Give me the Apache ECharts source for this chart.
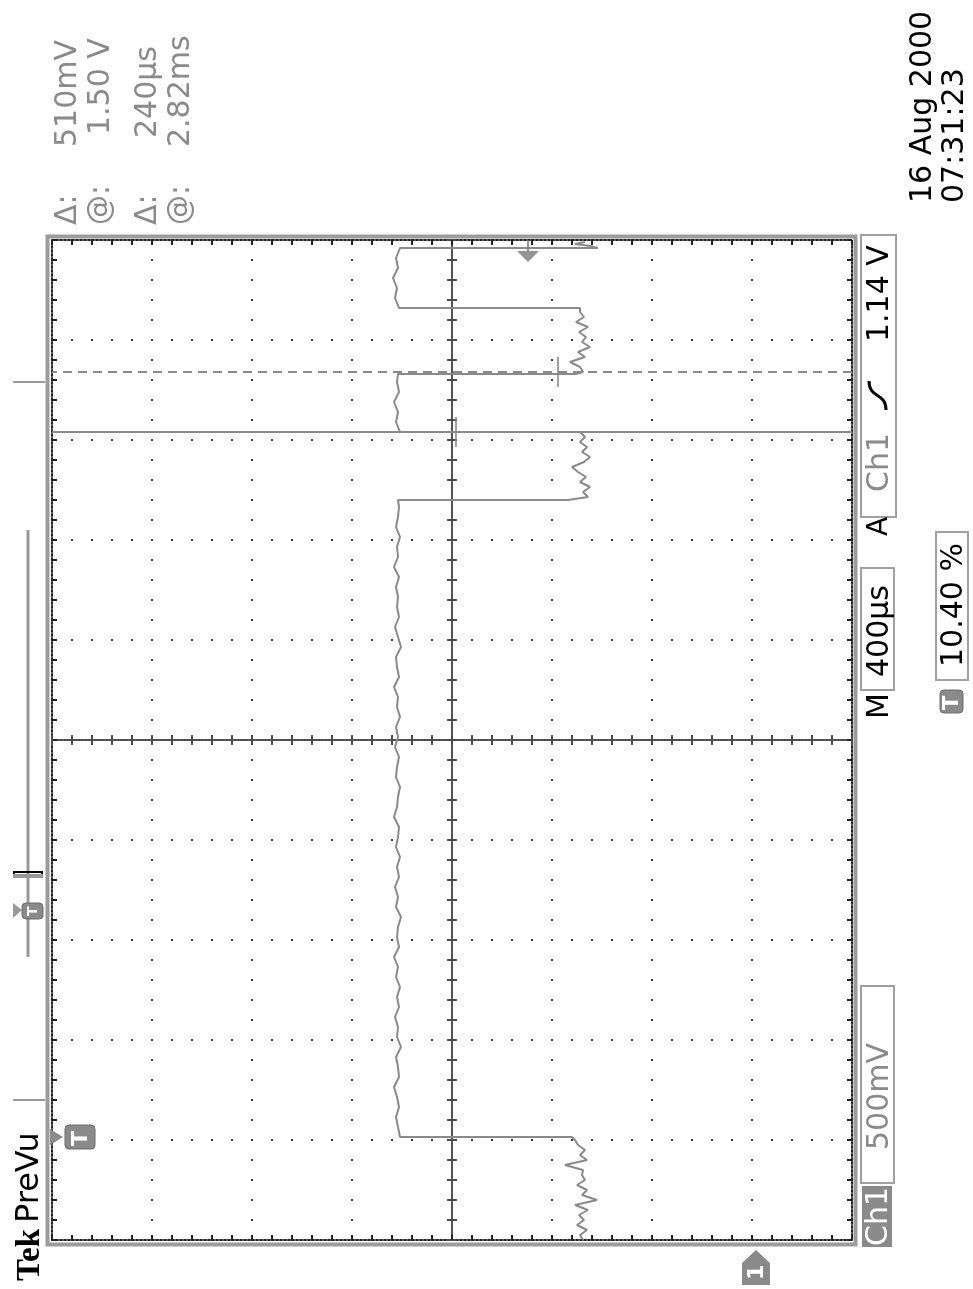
<!DOCTYPE html>
<html><head><meta charset="utf-8">
<script src="https://cdn.jsdelivr.net/npm/echarts@6/dist/echarts.min.js"></script>
<style>html,body{margin:0;padding:0;background:#fff}#c{width:973px;height:1289px}</style>
</head><body><div id="c"></div><script>
// ---- data (time in µs relative to trigger, voltage in V) ----
const traceTime = [
  -412,-392,-372,-352,-332,-312,-292,-272,-252,-232,-212,-192,-172,-152,-132,-112,-92,-72,-52,-32,-12,0,
  0,40,80,120,160,200,240,280,320,360,400,440,480,520,560,600,640,680,720,760,800,840,880,920,960,1000,
  1040,1080,1120,1160,1200,1240,1280,1320,1360,1400,1440,1480,1520,1560,1600,1640,1680,1720,1760,1800,
  1840,1880,1920,1960,2000,2040,2080,2120,2160,2200,2240,2280,2320,2360,2400,2440,2480,2520,2548,
  2548,2560,2580,2600,2620,2640,2660,2680,2700,2720,2740,2760,2780,2800,2820,
  2820,2860,2900,2940,2980,3020,3052,
  3052,3060,3080,3100,3120,3140,3160,3180,3200,3220,3240,3260,3280,3300,3316,
  3316,3356,3396,3436,3476,3516,3556,
  3556,3564,3572,3580
];
const traceVolt = [
  0.865,0.88,0.845,0.895,0.86,0.885,0.84,0.905,0.795,0.87,0.845,0.895,0.855,0.87,0.865,0.955,0.845,0.88,0.855,0.89,0.905,0.92,
  1.78,1.79,1.80,1.785,1.795,1.81,1.785,1.79,1.80,1.775,1.795,1.79,1.805,1.785,1.795,1.78,1.80,1.79,1.81,1.785,1.795,
  1.79,1.775,1.80,1.79,1.805,1.785,1.795,1.78,1.80,1.79,1.785,1.81,1.795,1.79,1.78,1.80,1.795,1.785,1.805,1.79,
  1.80,1.78,1.795,1.79,1.81,1.785,1.795,1.80,1.775,1.79,1.805,1.785,1.795,1.79,1.80,1.785,1.81,1.79,1.795,1.78,
  1.80,1.79,1.785,1.79,
  0.94,0.84,0.865,0.83,0.88,0.85,0.89,0.92,0.86,0.83,0.87,0.845,0.88,0.855,0.88,
  1.78,1.80,1.79,1.81,1.785,1.795,1.79,
  0.90,0.865,0.88,0.93,0.855,0.89,0.83,0.87,0.85,0.885,0.84,0.90,0.86,0.88,0.88,
  1.785,1.805,1.795,1.815,1.79,1.80,1.78,
  0.79,0.83,0.905,0.855
];
const cursorTimes = [2820, 3060];      // µs after trigger
const cursorVolts = [1.50, 0.99];      // V at cursor crossings
const triggerLevel = 1.14;             // V
const triggerTime = 0;                 // µs
const groundVolt = 0;
const voltRange = [-0.48, 3.52];       // 8 div x 500 mV
const timeRange = [-412, 3588];        // 10 div x 400 µs
const readoutLabels = ['Δ:', '@:', 'Δ:', '@:'];
const readoutValues = ['510mV', '1.50 V', '240µs', '2.82ms'];
const dateLines = ['16 Aug 2000', '07:31:23'];
const trigText = ['A', 'Ch1', '1.14 V'];
const timebaseText = ['M', '400µs'];
const chText = ['Ch1', '500mV'];
const posText = '10.40 %';

const GRAY = '#8a8a8a';
const chart = echarts.init(document.getElementById('c'), null, {renderer: 'canvas'});
const trace = traceTime.map((t, i) => [traceVolt[i], t]);

const dotGrid = {color: '#3c3c3c', width: 2, type: [2, 18], dashOffset: 1};
function gridAxis(pos, opt) {
  const inside = opt.inside !== false;
  const center = !!opt.offset;
  const lineCol = center ? '#4a4a4a' : '#222';
  return {
    type: 'value', min: 0, max: opt.max, interval: 1, position: pos, offset: opt.offset || 0,
    axisLine: {show: true, onZero: false, lineStyle: {color: lineCol, width: 2, type: center ? [1, 2] : [2, 2]}},
    axisTick: {show: true, inside: inside, length: opt.len || 5, lineStyle: {color: lineCol, width: 2}},
    minorTick: {show: true, splitNumber: 5, length: opt.len || 5, lineStyle: {color: lineCol, width: 2}},
    axisLabel: {show: false},
    splitLine: {show: !!opt.split, lineStyle: dotGrid},
    minorSplitLine: {show: false}
  };
}

const xAxis = [
  gridAxis('bottom', {max: 8, split: true}),
  gridAxis('top', {max: 8}),
  gridAxis('bottom', {max: 8, offset: -500, len: 5}),
  gridAxis('bottom', {max: 8, offset: -500, len: 5, inside: false}),
  {type: 'value', min: voltRange[0], max: voltRange[1], inverse: true, show: false}
];
const yAxis = [
  gridAxis('left', {max: 10, split: true}),
  gridAxis('right', {max: 10}),
  gridAxis('left', {max: 10, offset: -400, len: 5}),
  gridAxis('left', {max: 10, offset: -400, len: 5, inside: false}),
  {type: 'value', min: timeRange[0], max: timeRange[1], show: false}
];

chart.setOption({
  animation: false,
  backgroundColor: '#fff',
  grid: {left: 52, top: 240, width: 800, height: 1000, show: false, containLabel: false},
  xAxis: xAxis,
  yAxis: yAxis,
  series: [
    {
      type: 'line', xAxisIndex: 4, yAxisIndex: 4, data: trace, showSymbol: false, symbol: 'none',
      lineStyle: {color: GRAY, width: 2}, z: 5,
      markLine: {
        symbol: 'none', silent: true, label: {show: false}, animation: false,
        data: [
          {yAxis: cursorTimes[0], lineStyle: {type: 'solid', color: GRAY, width: 2}},
          {yAxis: cursorTimes[1], lineStyle: {type: [9, 6], color: GRAY, width: 2}}
        ]
      }
    },
    {
      type: 'scatter', xAxisIndex: 4, yAxisIndex: 4, symbol: 'rect', symbolSize: [2, 30],
      data: cursorTimes.map((t, i) => [cursorVolts[i], t]), itemStyle: {color: GRAY}, z: 6
    },
    {
      type: 'scatter', xAxisIndex: 4, yAxisIndex: 4,
      symbol: 'path://M10 0 H12 V11 H22 L11 22 L0 11 H10 Z', symbolSize: [22, 22], symbolOffset: [0, 11],
      data: [[triggerLevel, timeRange[1]]], itemStyle: {color: '#7a7a7a'}, z: 6
    }
  ]
});

// ---- annotations (rotated like the scope screen) ----
function vt(x, y, text, size, color, opt) {
  opt = opt || {};
  return {type: 'text', x: x, y: y, rotation: Math.PI / 2, z: 20,
    style: {text: text, fill: color, font: (opt.weight || 'normal') + ' ' + size + 'px ' + (opt.family || '"DejaVu Sans"'),
      align: opt.align || 'left', verticalAlign: 'middle'}};
}
function box(x, y, w, h, fill, stroke) {
  return {type: 'rect', z: 15, shape: {x: x, y: y, width: w, height: h, r: 0},
    style: {fill: fill || '#fff', stroke: stroke || '#a0a0a0', lineWidth: 2}};
}
function tIcon(x, y, w, h) {
  return [
    {type: 'rect', z: 15, shape: {x: x, y: y, width: w, height: h, r: 4}, style: {fill: GRAY, stroke: '#6a6a6a', lineWidth: 1}},
    vt(x + w / 2 + 1, y + h - 3, 'T', h - 2, '#fff', {weight: 'bold'})
  ];
}

const xTrig = chart.convertToPixel({yAxisIndex: 4}, triggerTime);
const xGnd = chart.convertToPixel({xAxisIndex: 4}, groundVolt);

const g = [];
// outer gray frame
g.push({type: 'rect', z: 1, shape: {x: 47.5, y: 236.5, width: 808, height: 1008}, style: {fill: 'none', stroke: '#9c9c9c', lineWidth: 4}});
// readouts
const rx = [68, 101, 148, 181], rstart = [147, 135, 138, 147];
for (let i = 0; i < 4; i++) {
  g.push(vt(rx[i], 225, readoutLabels[i], 30, GRAY));
  g.push(vt(rx[i], rstart[i], readoutValues[i], 30, GRAY));
}
// date
g.push(vt(923.5, 203, dateLines[0], 30, '#000'));
g.push(vt(955.5, 203, dateLines[1], 30, '#000'));
// trigger box
g.push(box(861, 235, 35, 282));
g.push(vt(880, 342, trigText[2], 30, '#000'));
g.push(vt(880, 492, trigText[1], 30, GRAY));
g.push({type: 'bezierCurve', z: 20, shape: {x1: 886, y1: 410, cpx1: 886, cpy1: 392, cpx2: 869, cpy2: 399, x2: 869, y2: 381},
  style: {stroke: '#000', lineWidth: 3, fill: 'none'}});
g.push(vt(880, 536, trigText[0], 28, '#000'));
// timebase
g.push(box(861, 568, 33, 122));
g.push(vt(880, 677, timebaseText[1], 30, '#000'));
g.push(vt(880, 719, timebaseText[0], 30, '#000'));
// position percent
g.push(box(936, 532, 32, 148));
g.push(vt(954, 667, posText, 30, '#000'));
tIcon(940, 690, 23, 23).forEach(e => g.push(e));
// channel scale
g.push(box(861, 986, 33, 197));
g.push(vt(880, 1150, chText[1], 30, GRAY));
g.push({type: 'rect', z: 15, shape: {x: 862, y: 1186, width: 30, height: 61}, style: {fill: GRAY}});
g.push(vt(879, 1246, chText[0], 30, '#fff'));
// Tek PreVu
g.push(vt(30, 1281, 'Tek', 33, '#000', {weight: 'bold', family: '"Liberation Serif"'}));
g.push(vt(30, 1223, 'PreVu', 32, '#000'));
// record view bar (left)
g.push({type: 'line', z: 10, shape: {x1: 13, y1: 382, x2: 45, y2: 382}, style: {stroke: '#999', lineWidth: 2}});
g.push({type: 'line', z: 10, shape: {x1: 13, y1: 1100, x2: 45, y2: 1100}, style: {stroke: '#999', lineWidth: 2}});
g.push({type: 'line', z: 10, shape: {x1: 28, y1: 530, x2: 28, y2: 957}, style: {stroke: '#999', lineWidth: 3}});
g.push({type: 'polyline', z: 11, shape: {points: [[14, 878], [14, 872], [42, 872], [42, 878]]}, style: {stroke: '#000', lineWidth: 2, fill: 'none'}});
g.push({type: 'rect', z: 11, shape: {x: 13, y: 874, width: 30, height: 4}, style: {fill: '#999'}});
g.push({type: 'polygon', z: 11, shape: {points: [[13, 903], [22, 910], [13, 918]]}, style: {fill: '#999'}});
tIcon(22, 903, 21, 16).forEach(e => g.push(e));
// trigger position marker
g.push({type: 'polygon', z: 12, shape: {points: [[50, xTrig - 8], [63, xTrig], [50, xTrig + 8]]}, style: {fill: GRAY}});
tIcon(65, xTrig - 12, 30, 24).forEach(e => g.push(e));
// ground marker
g.push({type: 'polygon', z: 12, shape: {points: [[xGnd - 14, 1285], [xGnd + 14, 1285], [xGnd + 14, 1263], [xGnd, 1250], [xGnd - 14, 1263]]}, style: {fill: GRAY}});
g.push(vt(xGnd + 1, 1280, '1', 22, '#fff', {weight: 'bold'}));

chart.setOption({graphic: {elements: g}});
</script></body></html>
